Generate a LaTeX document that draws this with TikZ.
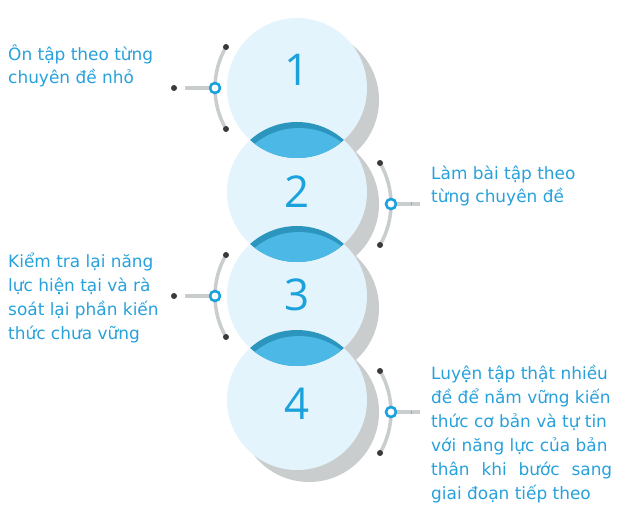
\documentclass[tikz,border=0pt]{standalone}
\usepackage{fontspec}
\setmainfont{DejaVu Sans}
\newfontfamily\numfont{Open Sans}
\usetikzlibrary{calc}
\definecolor{diskfill}{HTML}{E4F4FC}
\definecolor{lenslightc}{HTML}{4BB8E6}
\definecolor{lensdarkc}{HTML}{2C95BE}
\definecolor{shadowc}{HTML}{C9CDCD}
\definecolor{dotc}{HTML}{3A3A3A}
\definecolor{ringc}{HTML}{1BA1DC}
\definecolor{txtc}{HTML}{27A1DC}
\tikzset{
  shadowdisk/.style={circle,inner sep=0,minimum size=140bp,fill=shadowc},
  disk/.style={circle,inner sep=0,minimum size=140bp,fill=diskfill},
  numtext/.style={text=ringc,font=\numfont\fontsize{44}{44}\selectfont,inner sep=0},
  guidearc/.style={draw=shadowc,line width=3.5bp},
  bar/.style={draw=shadowc,line width=4bp},
  enddot/.style={circle,fill=dotc,inner sep=0,minimum size=6bp},
  ring/.style={circle,draw=ringc,fill=white,line width=2.6bp,inner sep=0,minimum size=10bp},
  label/.style={text=txtc,font=\fontsize{17}{24}\selectfont,inner sep=0,align=left,anchor=base west},
}
\begin{document}
\begin{tikzpicture}[x=1bp,y=-1bp]
\useasboundingbox (0,0) rectangle (620,528);
% shadows
\node[shadowdisk] (s4) at (309,412) {};
\node[shadowdisk] (s3) at (309,308) {};
\node[shadowdisk] (s2) at (309,204) {};
\node[shadowdisk] (s1) at (309,100) {};
% disks
\node[disk] (c4) at (297,400) {};
\node[disk] (c3) at (297,296) {};
\node[disk] (c2) at (297,192) {};
\node[disk] (c1) at (297,88) {};
% lenses
\foreach \a/\b in {c1/c2,c2/c3,c3/c4}{
  \begin{scope}
    \clip (\a.center) circle (70bp);
    \fill[lensdarkc] (\b.center) circle (70bp);
    \fill[lenslightc] ($(\b.center)+(2,6)$) circle (70bp);
  \end{scope}
}
% numbers
\node[numtext] (n1) at (297,70) {1};
\node[numtext] (n2) at (297,192) {2};
\node[numtext] (n3) at (297,295) {3};
\node[numtext] (n4) at (297,404) {4};
% left connectors (1 and 3)
\foreach \c/\k in {c1/1,c3/3}{
  \draw[guidearc] ([shift={(150:82bp)}]\c.center) arc (150:210:82bp);
  \node[enddot] (ta\k) at ([shift={(150:82bp)}]\c.center) {};
  \node[enddot] (ba\k) at ([shift={(210:82bp)}]\c.center) {};
  \coordinate (be\k) at ([shift={(-112bp,0)}]\c.center);
  \node[enddot] (ed\k) at ([shift={(-123bp,0)}]\c.center) {};
  \node[ring] (r\k) at ([shift={(180:82bp)}]\c.center) {};
  \draw[bar] (r\k.west) -- (be\k);
}
% right connectors (2 and 4)
\foreach \s/\k in {s2/2,s4/4}{
  \draw[guidearc] ([shift={(-30:82bp)}]\s.center) arc (-30:30:82bp);
  \node[enddot] (ta\k) at ([shift={(30:82bp)}]\s.center) {};
  \node[enddot] (ba\k) at ([shift={(-30:82bp)}]\s.center) {};
  \coordinate (be\k) at ([shift={(111bp,0)}]\s.center);
  \node[ring] (r\k) at ([shift={(0:82bp)}]\s.center) {};
  \draw[bar] (r\k.east) -- (be\k);
  \draw[draw=gray!70,line width=0.6bp] ([shift={(102bp,-1.5bp)}]\s.center) -- ([shift={(102bp,1.5bp)}]\s.center);
}
% texts (anchor base = baseline of last line)
\node[label] (t1) at (8,84) {Ôn tập theo từng\\chuyên đề nhỏ};
\node[label] (t2) at (431,203) {Làm bài tập theo\\từng chuyên đề};
\node[label] (t3) at (8,339) {Kiểm tra lại năng\\lực hiện tại và rà\\soát lại phần kiến\\thức chưa vững};
\node[label] (t4) at (431,499) {Luyện tập thật nhiều\\đề để nắm vững kiến\\thức cơ bản và tự tin\\với năng lực của bản\\\hbox to 181bp{thân\hfill khi\hfill bước\hfill sang}\\giai đoạn tiếp theo};
\end{tikzpicture}
\end{document}
